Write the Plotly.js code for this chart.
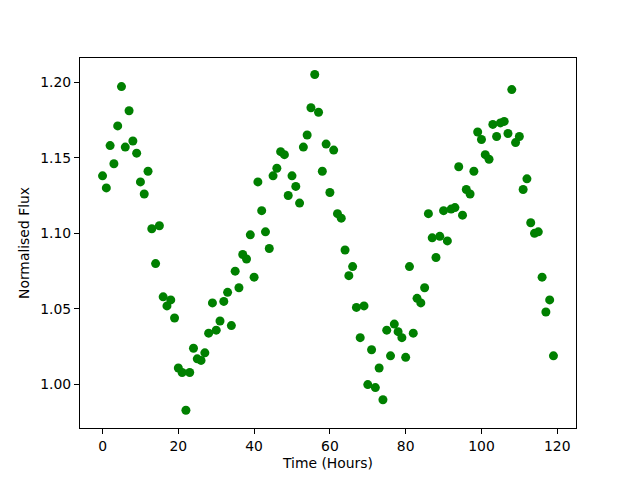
<!DOCTYPE html>
<html>
<head>
<meta charset="utf-8">
<script src="https://cdn.plot.ly/plotly-3.0.1.min.js"></script>
<style>html,body{margin:0;padding:0;background:#fff;}#chart{width:640px;height:480px;}</style>
</head>
<body>
<div id="chart"></div>
<script>
const hours = Array.from({length: 120}, (_, i) => i);
const flux = [
  1.138, 1.130, 1.158, 1.146, 1.171, 1.197, 1.157, 1.181, 1.161, 1.153,
  1.134, 1.126, 1.141, 1.103, 1.080, 1.105, 1.058, 1.052, 1.056, 1.044,
  1.011, 1.008, 0.983, 1.008, 1.024, 1.017, 1.016, 1.021, 1.034, 1.054,
  1.036, 1.042, 1.055, 1.061, 1.039, 1.075, 1.064, 1.086, 1.083, 1.099,
  1.071, 1.134, 1.115, 1.101, 1.090, 1.138, 1.143, 1.154, 1.152, 1.125,
  1.138, 1.131, 1.120, 1.157, 1.165, 1.183, 1.205, 1.180, 1.141, 1.159,
  1.127, 1.155, 1.113, 1.110, 1.089, 1.072, 1.078, 1.051, 1.031, 1.052,
  1.000, 1.023, 0.998, 1.011, 0.990, 1.036, 1.019, 1.040, 1.035, 1.031,
  1.018, 1.078, 1.034, 1.057, 1.054, 1.064, 1.113, 1.097, 1.084, 1.098,
  1.115, 1.095, 1.116, 1.117, 1.144, 1.112, 1.129, 1.126, 1.141, 1.167,
  1.162, 1.152, 1.149, 1.172, 1.164, 1.173, 1.174, 1.166, 1.195, 1.160,
  1.164, 1.129, 1.136, 1.107, 1.100, 1.101, 1.071, 1.048, 1.056, 1.019
];
const xTicks = [0, 20, 40, 60, 80, 100, 120];
const yTicks = [1.00, 1.05, 1.10, 1.15, 1.20];

const font = {family: 'DejaVu Sans', size: 13.9, color: '#000'};
const trace = {
  x: hours, y: flux, type: 'scatter', mode: 'markers',
  marker: {color: '#008000', size: 9}
};
const layout = {
  width: 640, height: 480,
  margin: {l: 80, r: 64, t: 58, b: 52, pad: 0},
  paper_bgcolor: '#fff', plot_bgcolor: '#fff',
  font: font,
  showlegend: false,
  xaxis: {
    range: [-5.95, 124.95], tickvals: xTicks, ticktext: xTicks.map(String),
    ticks: 'outside', ticklen: 5, tickwidth: 1, tickcolor: '#000',
    showline: true, mirror: true, linecolor: '#000', linewidth: 1,
    showgrid: false, zeroline: false,
    title: {text: 'Time (Hours)', font: font, standoff: 5}
  },
  yaxis: {
    range: [0.9713, 1.2159], tickvals: yTicks, ticktext: yTicks.map(v => v.toFixed(2)),
    ticks: 'outside', ticklen: 5, tickwidth: 1, tickcolor: '#000',
    showline: true, mirror: true, linecolor: '#000', linewidth: 1,
    showgrid: false, zeroline: false,
    title: {text: 'Normalised Flux', font: font, standoff: 7}
  }
};
Plotly.newPlot('chart', [trace], layout, {displayModeBar: false, staticPlot: true});
</script>
</body>
</html>
